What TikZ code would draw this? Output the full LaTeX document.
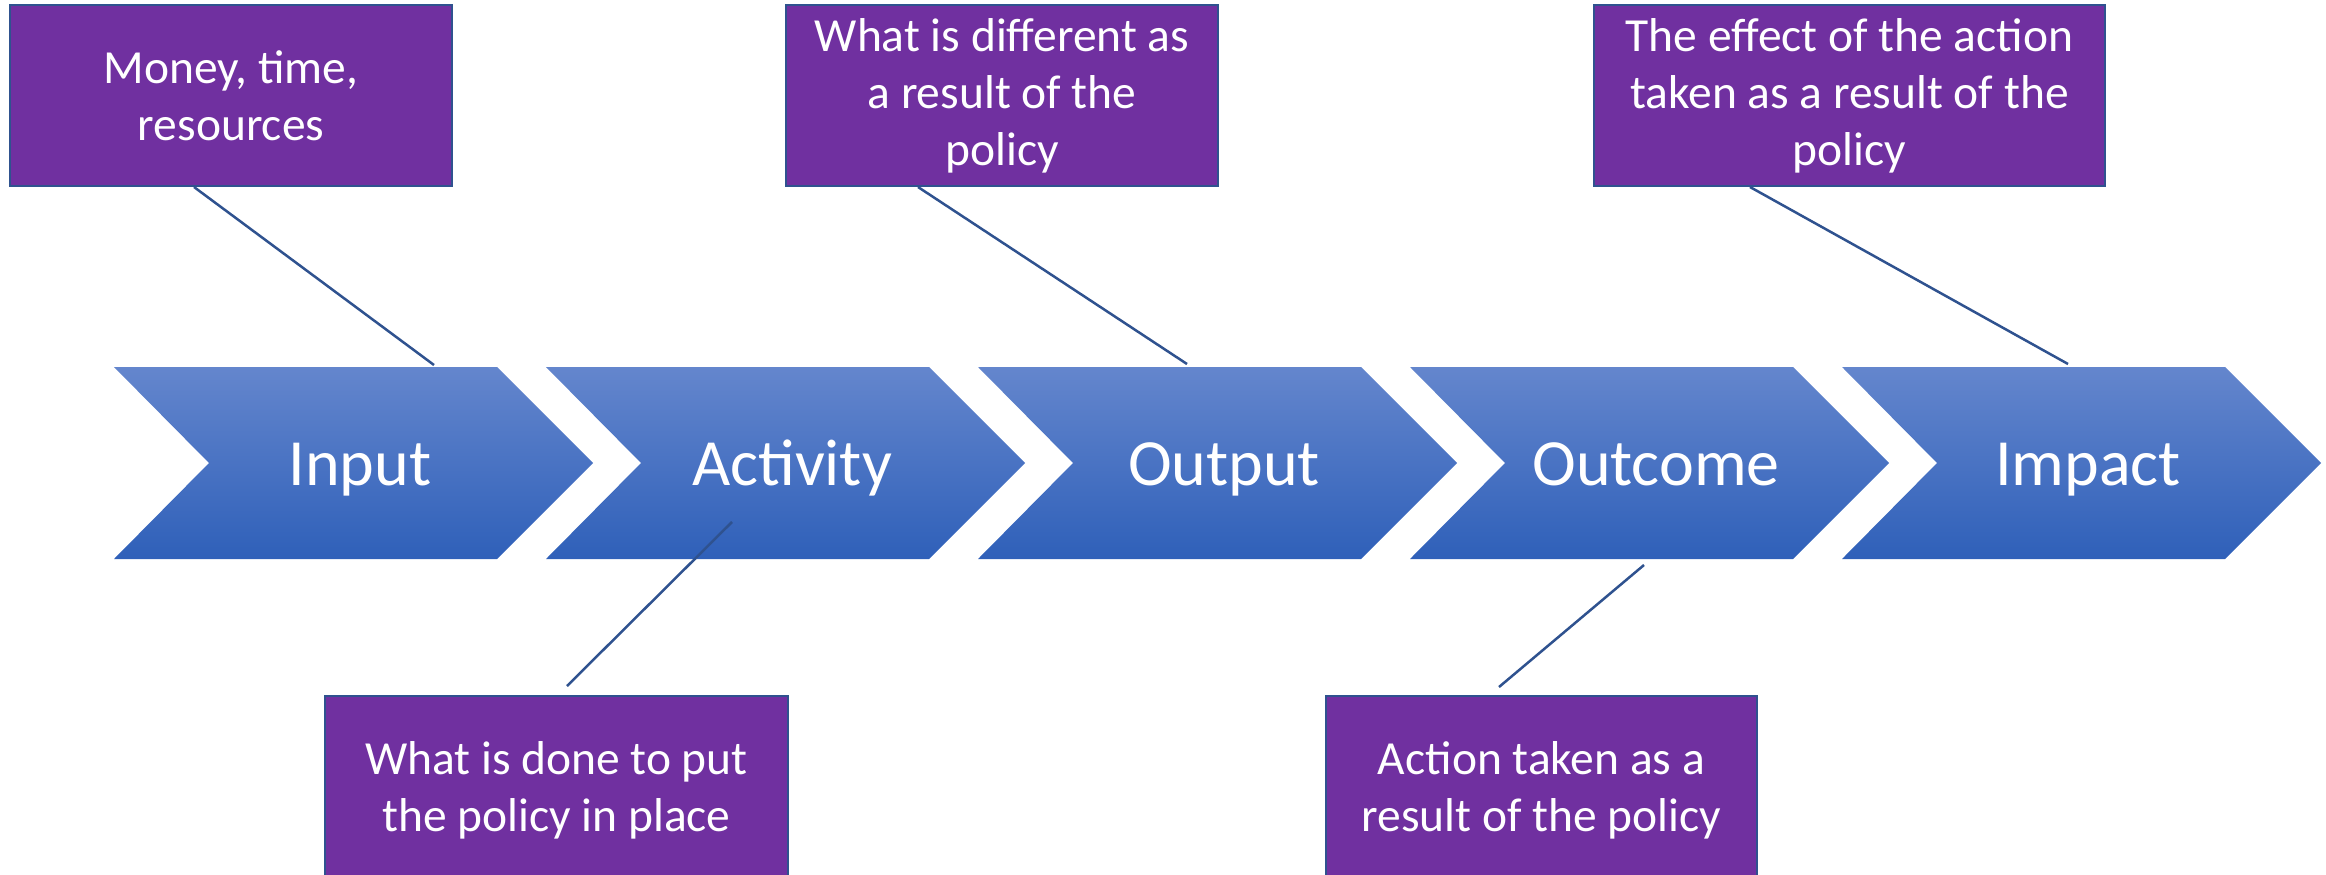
\documentclass[tikz,border=0pt]{standalone}
\usepackage{fontspec}
\setmainfont{Carlito}
\usetikzlibrary{calc}
\definecolor{boxpurple}{HTML}{7030A0}
\definecolor{boxline}{HTML}{2F528F}
\definecolor{connline}{HTML}{2F528F}
\definecolor{chevtop}{HTML}{6486CD}
\definecolor{chevmid}{HTML}{4472C8}
\definecolor{chevbot}{HTML}{2F60B9}
\begin{document}
\begin{tikzpicture}[x=1bp,y=-1bp,
  box/.style={draw=boxline, line width=2bp, fill=boxpurple, text=white, align=center,
    inner sep=0pt, font=\fontsize{47.5bp}{57bp}\selectfont},
  chev/.style={top color=chevtop, middle color=chevmid, bottom color=chevbot, draw=none},
  chevtext/.style={text=white, font=\fontsize{66bp}{79bp}\selectfont, anchor=base, inner sep=0pt},
  conn/.style={draw=connline, line width=2.5bp}]
\useasboundingbox (0,0) rectangle (2326,874);

% chevrons
\foreach \i/\t/\n in {0/Input/c1, 1/Activity/c2, 2/Output/c3, 3/Outcome/c4, 4/Impact/c5}{
  \path[chev] ({114+432*\i},367) -- ++(383,0) -- ++(96,96) -- ++(-96,96) -- ++(-383,0) -- ++(95,-96) -- cycle;
  \node[chevtext] (\n) at ({114+432*\i+246},485) {\t};
}

% label boxes
\node[box, minimum width=442bp, minimum height=181bp] (b1) at (231,95.5) {Money, time,\\resources};
\node[box, minimum width=432bp, minimum height=181bp] (b3) at (1002,95.5) {What is different as\\a result of the\\policy};
\node[box, minimum width=511bp, minimum height=181bp] (b5) at (1849.5,95.5) {The effect of the action\\taken as a result of the\\policy};
\node[box, minimum width=463bp, minimum height=188bp] (b2) at (556.5,790) {What is done to put\\the policy in place};
\node[box, minimum width=431bp, minimum height=188bp] (b4) at (1541.5,790) {Action taken as a\\result of the policy};

% free ends of connectors
\coordinate (e1) at (434,365);
\coordinate (e2) at (732,522);
\coordinate (e3) at (1187,364);
\coordinate (e4) at (1644,565);
\coordinate (e5) at (2068,364);

% connectors
\draw[conn] ($(b1.south west)+(185,0)$) -- (e1);
\draw[conn] ($(b2.north west)+(243,-9)$) -- (e2);
\draw[conn] ($(b3.south west)+(133,0)$) -- (e3);
\draw[conn] ($(b4.north west)+(174,-8)$) -- (e4);
\draw[conn] ($(b5.south west)+(157,0)$) -- (e5);
\end{tikzpicture}
\end{document}
